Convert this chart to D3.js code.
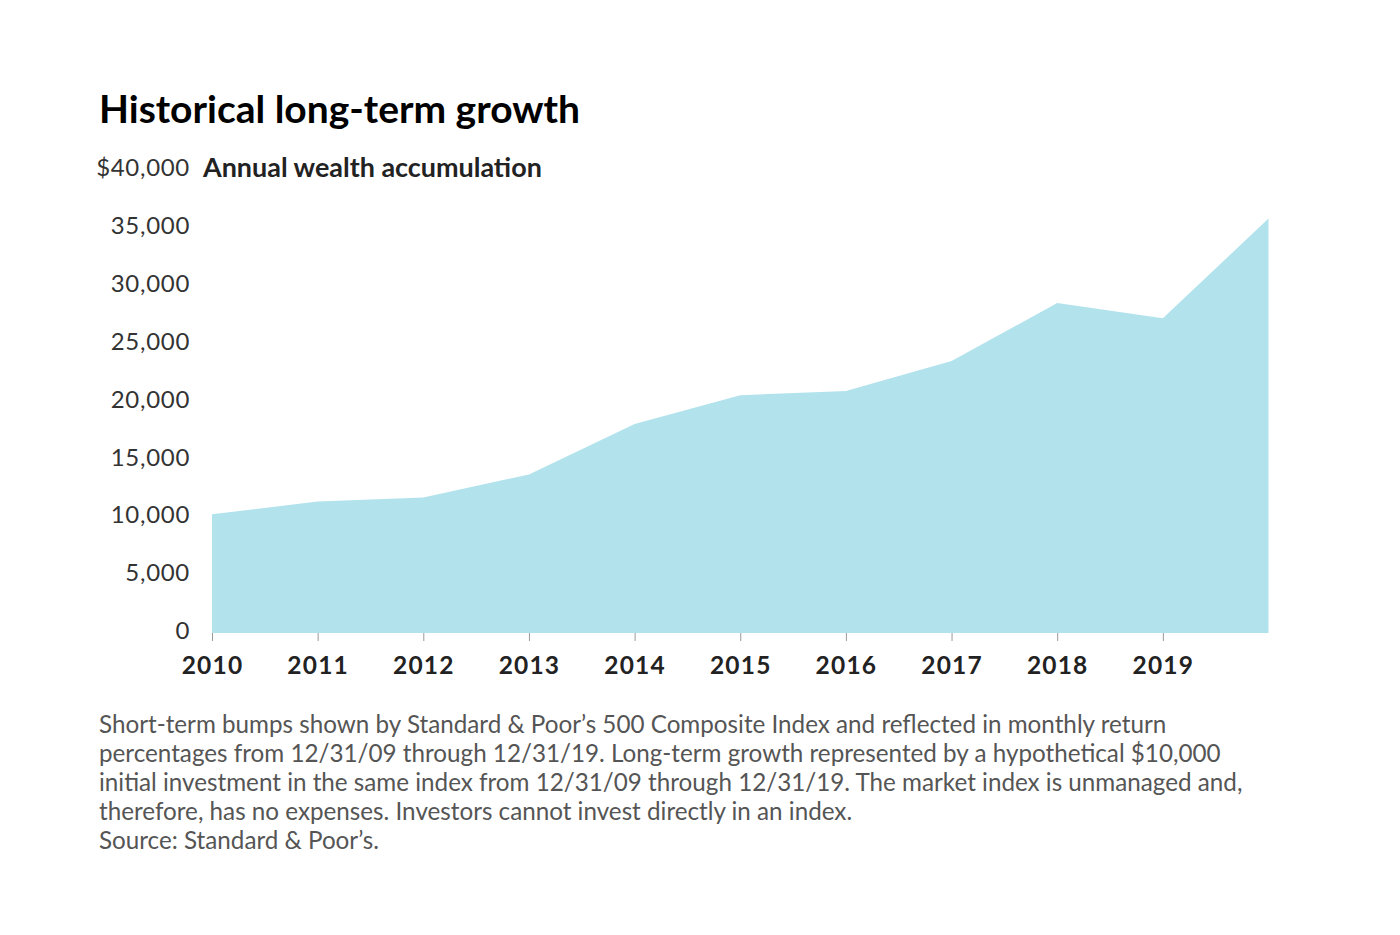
<!DOCTYPE html>
<html><head><meta charset="utf-8">
<script src="https://cdn.jsdelivr.net/npm/d3@7"></script>
<style>
html,body{margin:0;padding:0;background:#fff;}
svg{display:block;}
</style></head>
<body>
<svg id="chart" width="1400" height="935"></svg>
<script>
const years = [2010, 2011, 2012, 2013, 2014, 2015, 2016, 2017, 2018, 2019, 2020];
const wealth = [10250, 11350, 11700, 13700, 18050, 20550, 20900, 23500, 28500, 27200, 35800];
const tickYears = [2010, 2011, 2012, 2013, 2014, 2015, 2016, 2017, 2018, 2019];
const yTicks = [0, 5000, 10000, 15000, 20000, 25000, 30000, 35000];
const title = "Historical long-term growth";
const subtitle = "Annual wealth accumulation";
const topLabel = "$40,000";
const footnote = [
  "Short-term bumps shown by Standard & Poor’s 500 Composite Index and reflected in monthly return",
  "percentages from 12/31/09 through 12/31/19. Long-term growth represented by a hypothetical $10,000",
  "initial investment in the same index from 12/31/09 through 12/31/19. The market index is unmanaged and,",
  "therefore, has no expenses. Investors cannot invest directly in an index.",
  "Source: Standard & Poor’s."
];

const svg = d3.select("#chart");
const FONT = "Lato, 'Open Sans', sans-serif";

const x = d3.scaleLinear().domain([2010, 2020]).range([212, 1268.5]);
const y = d3.scaleLinear().domain([0, 40000]).range([633, 170]);

function fitText(sel, target) {
  const w = sel.node().getComputedTextLength();
  const fs = parseFloat(sel.attr("font-size"));
  sel.attr("font-size", fs * target / w);
}

// title
const t = svg.append("text").attr("x", 99).attr("y", 123)
  .attr("font-family", FONT).attr("font-weight", 700).attr("font-size", 36)
  .attr("fill", "#000").text(title);
fitText(t, 481);

// area
const data = years.map((yr, i) => ({yr, v: wealth[i]}));
svg.append("path").datum(data)
  .attr("fill", "#b2e3ed")
  .attr("d", d3.area().x(d => x(d.yr)).y0(y(0)).y1(d => y(d.v)));

// y axis labels
const yAxis = d3.axisLeft(y).tickValues(yTicks).tickSize(0).tickPadding(0)
  .tickFormat(d3.format(","));
const gy = svg.append("g").attr("transform", "translate(190,-2)").call(yAxis);
gy.select(".domain").remove();
gy.selectAll("text").attr("font-family", FONT).attr("font-size", 24)
  .attr("letter-spacing", 0.7).attr("fill", "#333").attr("font-weight", 400);

// top label
svg.append("text").attr("x", 190).attr("y", y(40000) - 2).attr("dy", "0.32em")
  .attr("text-anchor", "end").attr("font-family", FONT).attr("font-size", 24)
  .attr("letter-spacing", 0.7).attr("fill", "#333").text(topLabel);
const st = svg.append("text").attr("x", 203).attr("y", y(40000) - 2).attr("dy", "0.32em")
  .attr("font-family", FONT).attr("font-weight", 700).attr("font-size", 23)
  .attr("fill", "#222").text(subtitle);
fitText(st, 339);

// x axis
const xAxis = d3.axisBottom(x).tickValues(tickYears).tickSize(8).tickPadding(16)
  .tickFormat(d3.format("d"));
const gx = svg.append("g").attr("transform", `translate(0,${y(0)})`).call(xAxis);
gx.select(".domain").remove();
gx.selectAll("line").attr("stroke", "#999").attr("stroke-width", 1);
gx.selectAll("text").attr("font-family", FONT).attr("font-weight", 700)
  .attr("font-size", 24.5).attr("letter-spacing", 1.2).attr("fill", "#222");

// footnote
const fg = svg.append("g");
const lines = footnote.map((s, i) => fg.append("text").attr("x", 99).attr("y", 733 + i * 29)
  .attr("font-family", FONT).attr("font-weight", 400).attr("font-size", 21)
  .attr("fill", "#555").text(s));
const w0 = lines[0].node().getComputedTextLength();
const w2 = lines[2].node().getComputedTextLength();
const fs = 21 * 0.5 * ((1172 - 99) / w0 + (1238 - 99) / w2);
lines.forEach(l => l.attr("font-size", fs));
</script>
</body></html>
